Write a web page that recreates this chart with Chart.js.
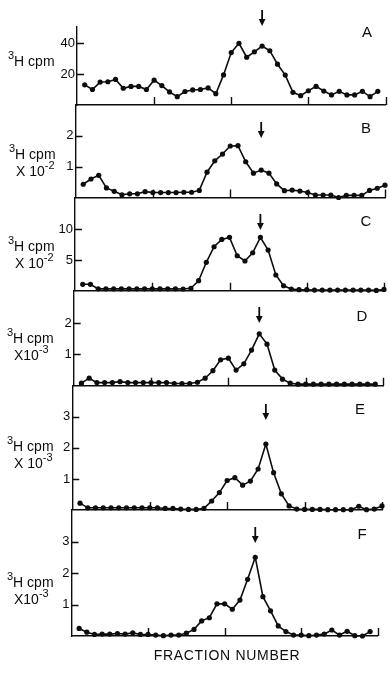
<!DOCTYPE html>
<html>
<head>
<meta charset="utf-8">
<script src="https://cdn.jsdelivr.net/npm/chart.js@4.4.1/dist/chart.umd.min.js"></script>
<style>
  html, body { margin: 0; padding: 0; background: #fff; }
  #wrap { position: relative; width: 390px; height: 674px; }
  #wrap canvas { position: absolute; left: 0; top: 0; }
</style>
</head>
<body>
<div id="wrap">
  <canvas id="pA" width="390" height="674"></canvas>
  <canvas id="pB" width="390" height="674"></canvas>
  <canvas id="pC" width="390" height="674"></canvas>
  <canvas id="pD" width="390" height="674"></canvas>
  <canvas id="pE" width="390" height="674"></canvas>
  <canvas id="pF" width="390" height="674"></canvas>
</div>
<script>
// fraction numbers (x)
var fractions = [1, 2, 3, 4, 5, 6, 7, 8, 9, 10, 11, 12, 13, 14, 15, 16, 17, 18, 19, 20,
                 21, 22, 23, 24, 25, 26, 27, 28, 29, 30, 31, 32, 33, 34, 35, 36, 37, 38, 39, 40];

// 3H cpm per fraction, one array per panel
var cpmA = [13, 10, 14.8, 15, 16.5, 10.8, 12, 12, 10, 16, 12.5, 8.4, 5.4, 8.7, 9.7, 10, 11, 7.3, 19.4, 33.8,
            39.8, 30.8, 34.3, 38, 35, 26.3, 19.3, 8.2, 6, 9.2, 12, 9, 6.5, 8.8, 6.5, 6.5, 8.8, 5.4, 8.8];
var cpmB = [0.43, 0.6, 0.72, 0.31, 0.2, 0.09, 0.12, 0.12, 0.19, 0.16, 0.16, 0.16, 0.16, 0.17, 0.17, 0.23, 0.82, 1.19, 1.41, 1.67,
            1.68, 1.16, 0.79, 0.89, 0.79, 0.44, 0.22, 0.24, 0.21, 0.16, 0.08, 0.08, 0.08, 0, 0.07, 0.07, 0.07, 0.23, 0.3, 0.4];
var cpmC = [1.04, 1.04, 0.3, 0.3, 0.3, 0.3, 0.3, 0.3, 0.3, 0.3, 0.3, 0.3, 0.3, 0.28, 0.39, 1.63, 4.63, 7.17, 8.37, 8.7,
            5.7, 4.84, 6.19, 8.7, 6.63, 2.56, 0.81, 0.28, 0.16, 0.16, 0.1, 0.1, 0.1, 0.1, 0.1, 0.1, 0.1, 0.1, 0.05, 0.2];
var cpmD = [0.08, 0.24, 0.1, 0.1, 0.1, 0.13, 0.1, 0.1, 0.1, 0.1, 0.1, 0.1, 0.07, 0.07, 0.07, 0.11, 0.24, 0.48, 0.83, 0.88,
            0.5, 0.7, 1.14, 1.66, 1.33, 0.5, 0.21, 0.08, 0.05, 0.05, 0.05, 0.05, 0.05, 0.05, 0.05, 0.05, 0.05, 0.05, 0.05];
var cpmE = [0.22, 0.07, 0.07, 0.07, 0.07, 0.07, 0.07, 0.07, 0.07, 0.07, 0.07, 0.05, 0.05, 0.03, 0.02, 0.02, 0.05, 0.29, 0.56, 0.95,
            1.04, 0.8, 0.93, 1.32, 2.12, 1.2, 0.52, 0.13, 0.03, 0.02, 0.02, 0.02, 0.01, 0.01, 0.01, 0.01, 0.12, 0.01, 0.03, 0.13];
var cpmF = [0.24, 0.12, 0.05, 0.06, 0.06, 0.08, 0.06, 0.1, 0.05, 0.05, 0.03, 0.01, 0.03, 0.03, 0.09, 0.21, 0.48, 0.58, 1.02, 1.02,
            0.85, 1.14, 1.8, 2.5, 1.25, 0.8, 0.32, 0.14, 0.03, 0.03, 0.01, 0.03, 0.06, 0.19, 0.03, 0.15, 0.01, 0, 0.14];

// tick labels
var yTicksA = [20, 40];
var yTicksB = [1, 2];
var yTicksC = [5, 10];
var yTicksD = [1, 2];
var yTicksE = [1, 2, 3];
var yTicksF = [1, 2, 3];
var xTicks = [10, 20, 30, 40];

// arrow marks (fraction number)
var arrowAt = [24, 24, 24, 24, 25, 24];

var INK = '#0d0d0d';
var FONT = '"Liberation Sans", Arial, sans-serif';

// layout of each panel (pixels) - the photo is slightly skewed, so each one gets its own box
var panels = [
  { id: 'pA', letter: 'A', values: cpmA, yTicks: yTicksA, yMax: 50.3, exp: null,  mult: '',
    left: 77, right: 385.5, top: 27, bottom: 105, titleX: 8, titleY: 62, letterXY: [367, 33], arrowTip: 26 },
  { id: 'pB', letter: 'B', values: cpmB, yTicks: yTicksB, yMax: 3.0, exp: '-2', mult: 'X 10',
    left: 75.5, right: 385, top: 105, bottom: 197.5, titleX: 9, titleY: 155, letterXY: [366, 129], arrowTip: 138 },
  { id: 'pC', letter: 'C', values: cpmC, yTicks: yTicksC, yMax: 15.2, exp: '-2', mult: 'X 10',
    left: 75, right: 384, top: 197.5, bottom: 290.7, titleX: 8, titleY: 247, letterXY: [366, 222], arrowTip: 230 },
  { id: 'pD', letter: 'D', values: cpmD, yTicks: yTicksD, yMax: 3.04, exp: '-3', mult: 'X10',
    left: 73.7, right: 383, top: 290.7, bottom: 385.7, titleX: 7, titleY: 339, letterXY: [362, 317], arrowTip: 323 },
  { id: 'pE', letter: 'E', values: cpmE, yTicks: yTicksE, yMax: 4.0, exp: '-3', mult: 'X 10',
    left: 72.3, right: 382, top: 385.7, bottom: 510, titleX: 7, titleY: 447, letterXY: [360, 410], arrowTip: 420 },
  { id: 'pF', letter: 'F', values: cpmF, yTicks: yTicksF, yMax: 4.0, exp: '-3', mult: 'X10',
    left: 71.5, right: 381.5, top: 510, bottom: 636, titleX: 7, titleY: 583, letterXY: [362, 535], arrowTip: 543 }
];

// text with raised small parts: parts = [[text, isSup], ...]
function drawRich(ctx, x, y, parts) {
  parts.forEach(function (p) {
    ctx.font = (p[1] ? '11px ' : '14px ') + FONT;
    ctx.fillText(p[0], x, p[1] ? y - 6 : y);
    x += ctx.measureText(p[0]).width;
  });
}

function decorPlugin(p, isLast) {
  return {
    id: 'decor',
    afterDraw: function (chart) {
      var ctx = chart.ctx, area = chart.chartArea;
      var xs = chart.scales.x, ys = chart.scales.y;
      ctx.save();
      ctx.strokeStyle = INK;
      ctx.fillStyle = INK;
      ctx.lineWidth = 1.4;

      // inward tick marks
      ctx.beginPath();
      p.yTicks.forEach(function (v) {
        var py = Math.round(ys.getPixelForValue(v)) + 0.5;
        ctx.moveTo(area.left, py);
        ctx.lineTo(area.left + 7, py);
      });
      xTicks.forEach(function (v) {
        var px = Math.round(xs.getPixelForValue(v)) + 0.5;
        ctx.moveTo(px, area.bottom);
        ctx.lineTo(px, area.bottom - 8);
      });
      ctx.stroke();

      // arrow
      var ax = xs.getPixelForValue(arrowAt[panels.indexOf(p)]);
      ctx.lineWidth = 1.8;
      ctx.beginPath();
      ctx.moveTo(ax, p.arrowTip - 16);
      ctx.lineTo(ax, p.arrowTip - 5);
      ctx.stroke();
      ctx.beginPath();
      ctx.moveTo(ax - 3.4, p.arrowTip - 7);
      ctx.lineTo(ax + 3.4, p.arrowTip - 7);
      ctx.lineTo(ax, p.arrowTip);
      ctx.closePath();
      ctx.fill();

      // panel letter
      ctx.font = '15px ' + FONT;
      ctx.textAlign = 'center';
      ctx.textBaseline = 'middle';
      ctx.fillText(p.letter, p.letterXY[0], p.letterXY[1]);

      // y axis title
      ctx.textAlign = 'left';
      drawRich(ctx, p.titleX, p.titleY, [['3', true], ['H cpm', false]]);
      if (p.exp) {
        drawRich(ctx, p.titleX + 7, p.titleY + 17, [[p.mult, false], [p.exp, true]]);
      }

      if (isLast) {
        ctx.font = '14px ' + FONT;
        ctx.textAlign = 'center';
        if ('letterSpacing' in ctx) ctx.letterSpacing = '0.7px';
        ctx.fillText('FRACTION NUMBER', 227, 656);
      }
      ctx.restore();
    }
  };
}

panels.forEach(function (p, i) {
  var isLast = i === panels.length - 1;
  var points = p.values.map(function (v, k) { return { x: fractions[k], y: v }; });

  new Chart(document.getElementById(p.id), {
    type: 'line',
    data: {
      datasets: [{
        data: points,
        borderColor: INK,
        borderWidth: 1.6,
        pointRadius: 2.6,
        pointBorderWidth: 0,
        pointBackgroundColor: INK,
        tension: 0,
        clip: false
      }]
    },
    options: {
      responsive: false,
      animation: false,
      events: [],
      layout: {
        padding: { left: 0, right: 390 - p.right, top: p.top, bottom: 674 - p.bottom }
      },
      plugins: { legend: { display: false }, tooltip: { enabled: false } },
      scales: {
        x: {
          type: 'linear',
          min: 0,
          max: 40,
          grid: { display: false, drawTicks: false },
          border: { display: true, color: INK, width: 1.4 },
          ticks: { display: isLast, color: INK, font: { family: FONT, size: 13 }, padding: 5, maxRotation: 0 },
          afterBuildTicks: function (s) { s.ticks = xTicks.map(function (v) { return { value: v }; }); },
          afterFit: function (s) { s.height = 0; }
        },
        y: {
          min: 0,
          max: p.yMax,
          grid: { display: false, drawTicks: false },
          border: { display: true, color: INK, width: 1.4 },
          ticks: { color: INK, font: { family: FONT, size: 13 }, padding: 2 },
          afterBuildTicks: function (s) { s.ticks = p.yTicks.map(function (v) { return { value: v }; }); },
          afterFit: function (s) { s.width = p.left; }
        }
      }
    },
    plugins: [decorPlugin(p, isLast)]
  });
});
</script>
</body>
</html>
